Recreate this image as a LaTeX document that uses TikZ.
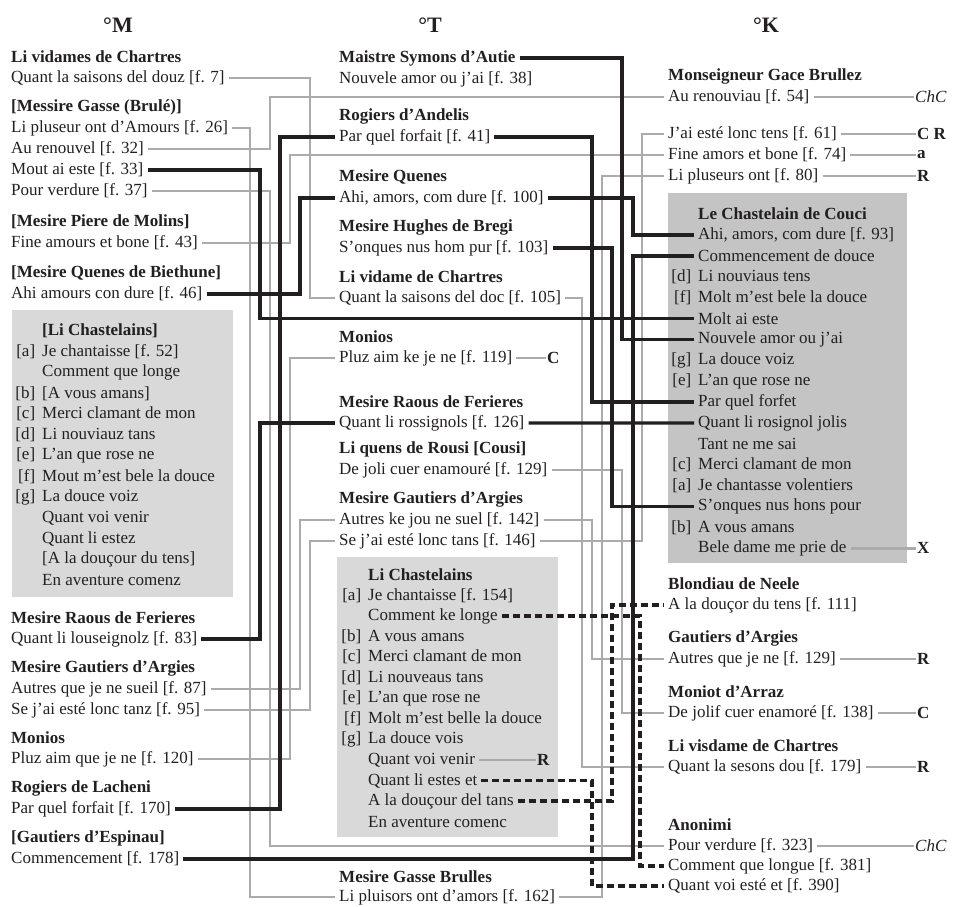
\documentclass[tikz,border=0pt]{standalone}
\usepackage{fontspec}
\setmainfont{Liberation Serif}
\usepackage{tikz}

\definecolor{ink}{HTML}{231F20}
\definecolor{lgray}{HTML}{ABABAB}
\definecolor{boxlt}{HTML}{D9D9D9}
\definecolor{boxdk}{HTML}{C4C4C4}
\newcommand{\elab}[1]{\llap{[#1]\hspace{7pt}}}

\begin{document}
\begin{tikzpicture}[x=1pt,y=-1pt,
  txt/.style={anchor=west,inner xsep=4pt,inner ysep=1pt,text=ink,font=\fontsize{17}{20}\selectfont},
  auth/.style={txt,font=\fontsize{17}{20}\selectfont\bfseries},
  head/.style={text=ink,font=\fontsize{22}{24}\selectfont\bfseries},
  lab/.style={anchor=west,inner xsep=1pt,text=ink,font=\fontsize{17}{20}\selectfont\bfseries},
  gline/.style={draw=lgray,line width=2.7pt},
  bline/.style={draw=ink,line width=3.4pt},
  dline/.style={bline,dash pattern=on 7pt off 4pt}]

\useasboundingbox (0,0) rectangle (961,907);

% boxes
\fill[boxlt] (12,310) rectangle (233,597);
\fill[boxlt] (337,557) rectangle (558,837);
\fill[boxdk] (668,193) rectangle (907,563);

% headers
\node[head] (hM) at (118,25) {°M};
\node[head] (hT) at (430,25) {°T};
\node[head] (hK) at (766,25) {°K};

% M
\node[auth] (mvid) at (7,57) {Li vidames de Chartres};
\node[txt] (m7) at (7,78) {Quant la saisons del douz [f. 7]};
\node[auth] (mgas) at (7,107) {[Messire Gasse (Brulé)]};
\node[txt] (m26) at (7,128) {Li pluseur ont d’Amours [f. 26]};
\node[txt] (m32) at (7,149) {Au renouvel [f. 32]};
\node[txt] (m33) at (7,170) {Mout ai este [f. 33]};
\node[txt] (m37) at (7,191) {Pour verdure [f. 37]};
\node[auth] (mmol) at (7,222) {[Mesire Piere de Molins]};
\node[txt] (m43) at (7,243) {Fine amours et bone [f. 43]};
\node[auth] (mbie) at (7,273) {[Mesire Quenes de Biethune]};
\node[txt] (m46) at (7,294) {Ahi amours con dure [f. 46]};
\node[auth] (mcha) at (38,331) {[Li Chastelains]};
\foreach \song [count=\i] in {{\elab{a}Je chantaisse [f. 52]}, Comment que longe,
    {\elab{b}[A vous amans]}, {\elab{c}Merci clamant de mon}, {\elab{d}Li nouviauz tans},
    {\elab{e}L’an que rose ne}, {\elab{f}Mout m’est bele la douce}, {\elab{g}La douce voiz},
    Quant voi venir, Quant li estez, {[A la douçour du tens]}, En aventure comenz}
  \node[txt] (mb\i) at (38,{331+20.75*\i}) {\song};
\node[auth] (mrao) at (7,618) {Mesire Raous de Ferieres};
\node[txt] (m83) at (7,639) {Quant li louseignolz [f. 83]};
\node[auth] (mgau) at (7,668) {Mesire Gautiers d’Argies};
\node[txt] (m87) at (7,689) {Autres que je ne sueil [f. 87]};
\node[txt] (m95) at (7,710) {Se j’ai esté lonc tanz [f. 95]};
\node[auth] (mmon) at (7,738) {Monios};
\node[txt] (m120) at (7,759) {Pluz aim que je ne [f. 120]};
\node[auth] (mlac) at (7,788) {Rogiers de Lacheni};
\node[txt] (m170) at (7,809) {Par quel forfait [f. 170]};
\node[auth] (mesp) at (7,838) {[Gautiers d’Espinau]};
\node[txt] (m178) at (7,859) {Commencement [f. 178]};

% T
\node[auth] (tsym) at (335,58) {Maistre Symons d’Autie};
\node[txt] (t38) at (335,79) {Nouvele amor ou j’ai [f. 38]};
\node[auth] (tand) at (335,116) {Rogiers d’Andelis};
\node[txt] (t41) at (335,137) {Par quel forfait [f. 41]};
\node[auth] (tque) at (335,177) {Mesire Quenes};
\node[txt] (t100) at (335,198) {Ahi, amors, com dure [f. 100]};
\node[auth] (tbre) at (335,227) {Mesire Hughes de Bregi};
\node[txt] (t103) at (335,248) {S’onques nus hom pur [f. 103]};
\node[auth] (tvid) at (335,277) {Li vidame de Chartres};
\node[txt] (t105) at (335,298) {Quant la saisons del doc [f. 105]};
\node[auth] (tmon) at (335,337) {Monios};
\node[txt] (t119) at (335,358) {Pluz aim ke je ne [f. 119]};
\node[auth] (trao) at (335,402) {Mesire Raous de Ferieres};
\node[txt] (t126) at (335,423) {Quant li rossignols [f. 126]};
\node[auth] (trou) at (335,449) {Li quens de Rousi [Cousi]};
\node[txt] (t129) at (335,470) {De joli cuer enamouré [f. 129]};
\node[auth] (tgau) at (335,499) {Mesire Gautiers d’Argies};
\node[txt] (t142) at (335,520) {Autres ke jou ne suel [f. 142]};
\node[txt] (t146) at (335,541) {Se j’ai esté lonc tans [f. 146]};
\node[auth] (tcha) at (364,575) {Li Chastelains};
\foreach \song [count=\i] in {{\elab{a}Je chantaisse [f. 154]}, Comment ke longe,
    {\elab{b}A vous amans}, {\elab{c}Merci clamant de mon}, {\elab{d}Li nouveaus tans},
    {\elab{e}L’an que rose ne}, {\elab{f}Molt m’est belle la douce}, {\elab{g}La douce vois},
    Quant voi venir, Quant li estes et, A la douçour del tans, En aventure comenc}
  \node[txt] (tb\i) at (364,{575+20.55*\i}) {\song};
\node[auth] (tgas) at (335,877) {Mesire Gasse Brulles};
\node[txt] (t162) at (335,897) {Li pluisors ont d’amors [f. 162]};
\node[lab] (l119) at (546,358) {C};
\node[lab] (ltb9) at (536,{575+20.55*9}) {R};

% K
\node[auth] (kgac) at (664,76) {Monseigneur Gace Brullez};
\node[txt] (k54) at (664,97) {Au renouviau [f. 54]};
\node[txt] (k61) at (664,134) {J’ai esté lonc tens [f. 61]};
\node[txt] (k74) at (664,155) {Fine amors et bone [f. 74]};
\node[txt] (k80) at (664,176) {Li pluseurs ont [f. 80]};
\node[auth] (kcha) at (694,214) {Le Chastelain de Couci};
\foreach \song [count=\i] in {{Ahi, amors, com dure [f. 93]}, Commencement de douce,
    {\elab{d}Li nouviaus tens}, {\elab{f}Molt m’est bele la douce}, Molt ai este,
    Nouvele amor ou j’ai, {\elab{g}La douce voiz}, {\elab{e}L’an que rose ne},
    Par quel forfet, Quant li rosignol jolis, Tant ne me sai, {\elab{c}Merci clamant de mon},
    {\elab{a}Je chantasse volentiers}, S’onques nus hons pour, {\elab{b}A vous amans},
    Bele dame me prie de}
  \node[txt] (kb\i) at (694,{214+20.9*\i}) {\song};
\node[auth] (kblo) at (664,584) {Blondiau de Neele};
\node[txt] (k111) at (664,605) {A la douçor du tens [f. 111]};
\node[auth] (kgau) at (664,638) {Gautiers d’Argies};
\node[txt] (k129) at (664,659) {Autres que je ne [f. 129]};
\node[auth] (kmon) at (664,692) {Moniot d’Arraz};
\node[txt] (k138) at (664,713) {De jolif cuer enamoré [f. 138]};
\node[auth] (kvis) at (664,746) {Li visdame de Chartres};
\node[txt] (k179) at (664,767) {Quant la sesons dou [f. 179]};
\node[auth] (kano) at (664,825) {Anonimi};
\node[txt] (k323) at (664,846) {Pour verdure [f. 323]};
\node[txt] (k381) at (664,866) {Comment que longue [f. 381]};
\node[txt] (k390) at (664,886) {Quant voi esté et [f. 390]};
\node[lab] (l54) at (914,97) {\mdseries\itshape ChC};
\node[lab] (l61) at (916,134) {C R};
\node[lab] (l74) at (916,155) {a};
\node[lab] (l80) at (916,176) {R};
\node[lab] (lkb16) at (916,{214+20.9*16}) {X};
\node[lab] (l129) at (916,659) {R};
\node[lab] (l138) at (916,713) {C};
\node[lab] (l179) at (916,767) {R};
\node[lab] (l323) at (914,846) {\mdseries\itshape ChC};

% channels
\foreach \cx in {250,260,270,280,290,300,310,582,592,602,612,622,633,640,642}
  \coordinate (c\cx) at (\cx,0);

% grey connectors
\draw[gline] (m7.east) -| (c310 |- t105.west) -- (t105.west);
\draw[gline] (t105.east) -| (c582 |- k179.west) -- (k179.west);
\draw[gline] (m26.east) -| (c250 |- t162.west) -- (t162.west);
\draw[gline] (t162.east) -| (c602 |- k80.west) -- (k80.west);
\draw[gline] (m32.east) -| (c270 |- k54.west) -- (k54.west);
\draw[gline] (m37.east) -| (c270 |- k323.west) -- (k323.west);
\draw[gline] (m43.east) -| (c290 |- k74.west) -- (k74.west);
\draw[gline] (m87.east) -| (c300 |- t142.west) -- (t142.west);
\draw[gline] (t142.east) -| (c592 |- k129.west) -- (k129.west);
\draw[gline] (m95.east) -| (c310 |- t146.west) -- (t146.west);
\draw[gline] (t146.east) -| (c642 |- k61.west) -- (k61.west);
\draw[gline] (m120.east) -| (c290 |- t119.west) -- (t119.west);
\draw[gline] (t129.east) -| (c622 |- k138.west) -- (k138.west);
\draw[gline] (t119.east) -- (l119.west);
\draw[gline] (tb9.east) -- (ltb9.west);
\draw[gline] (k54.east) -- (l54.west);
\draw[gline] (k61.east) -- (l61.west);
\draw[gline] (k74.east) -- (l74.west);
\draw[gline] (k80.east) -- (l80.west);
\draw[gline] (kb16.east) -- (lkb16.west);
\draw[gline] (k129.east) -- (l129.west);
\draw[gline] (k138.east) -- (l138.west);
\draw[gline] (k179.east) -- (l179.west);
\draw[gline] (k323.east) -- (l323.west);

% black connectors
\draw[bline] (m33.east) -| (c260 |- kb5.west) -- (kb5.west);
\draw[bline] (m46.east) -| (c300 |- t100.west) -- (t100.west);
\draw[bline] (t100.east) -| (c633 |- kb1.west) -- (kb1.west);
\draw[bline] (m83.east) -| (c260 |- t126.west) -- (t126.west);
\draw[bline] (t126.east) -- (kb10.west);
\draw[bline] (m170.east) -| (c280 |- t41.west) -- (t41.west);
\draw[bline] (t41.east) -| (c592 |- kb9.west) -- (kb9.west);
\draw[bline] (m178.east) -| (c633 |- kb2.west) -- (kb2.west);
\draw[bline] (tsym.east) -| (c622 |- kb6.west) -- (kb6.west);
\draw[bline] (t103.east) -| (c612 |- kb14.west) -- (kb14.west);

% dashed connectors
\draw[dline] (tb2.east) -| (c640 |- k381.west) -- (k381.west);
\draw[dline] (tb11.east) -| (c612 |- k111.west) -- (k111.west);
\draw[dline] (tb10.east) -| (c592 |- k390.west) -- (k390.west);
\end{tikzpicture}
\end{document}
